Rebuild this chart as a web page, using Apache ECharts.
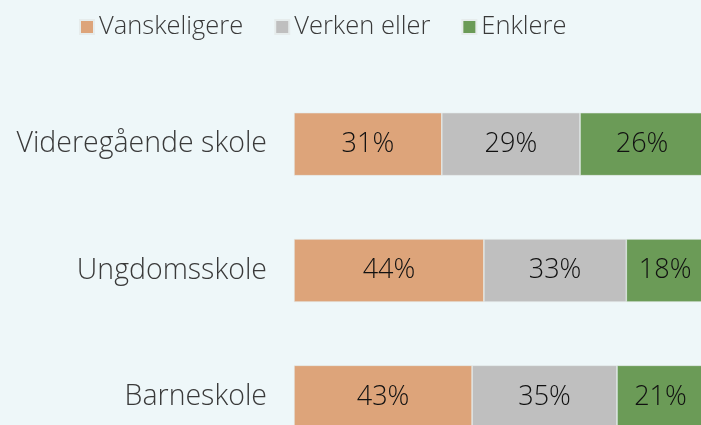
<!DOCTYPE html>
<html>
<head>
<meta charset="utf-8">
<script src="https://cdn.jsdelivr.net/npm/echarts@6/dist/echarts.min.js"></script>
<style>
  html, body { margin: 0; padding: 0; background: #eef7f9; }
  #main { width: 701px; height: 425px; }
</style>
</head>
<body>
<div id="main"></div>
<script>
var categories = ['Videregående skole', 'Ungdomsskole', 'Barneskole'];
var seriesNames = ['Vanskeligere', 'Verken eller', 'Enklere'];
var vanskeligere = [31, 44, 43];
var verkenEller = [29, 33, 35];
var enklere = [26, 18, 21];
var colors = ['#dda47a', '#bfbfbf', '#6b9b57'];

var raw = [vanskeligere, verkenEller, enklere];
// bredden på hver rad er normalisert til summen av de tre svarene
var totals = categories.map(function (c, i) {
  return vanskeligere[i] + verkenEller[i] + enklere[i];
});

var myChart = echarts.init(document.getElementById('main'));
var font = '"Open Sans", Lato, sans-serif';

var series = raw.map(function (arr, s) {
  return {
    name: seriesNames[s],
    type: 'bar',
    stack: 'total',
    barWidth: 63,
    itemStyle: { color: colors[s], borderColor: '#e6ecec', borderWidth: 0.6 },
    label: {
      show: true,
      position: 'inside',
      color: '#111111',
      fontSize: 27,
      fontWeight: 300,
      fontFamily: font,
      formatter: function (p) { return arr[p.dataIndex] + '%'; }
    },
    data: arr.map(function (v, i) { return v / totals[i] * 100; })
  };
});

var option = {
  backgroundColor: '#eef7f9',
  animation: false,
  color: colors,
  legend: {
    top: 9,
    left: 74,
    itemWidth: 14,
    itemHeight: 14,
    itemGap: 31,
    icon: 'rect',
    textStyle: { fontSize: 25.5, fontWeight: 300, color: '#3a3a3a', fontFamily: font },
    data: seriesNames
  },
  grid: { left: 294, right: -3, top: 81, bottom: -35, outerBoundsMode: 'none' },
  xAxis: { type: 'value', min: 0, max: 100, show: false },
  yAxis: {
    type: 'category',
    inverse: true,
    data: categories,
    axisLine: { show: false },
    axisTick: { show: false },
    axisLabel: { fontSize: 28.5, fontWeight: 300, color: '#3a3a3a', margin: 27, fontFamily: font }
  },
  series: series
};
myChart.setOption(option);
</script>
</body>
</html>
